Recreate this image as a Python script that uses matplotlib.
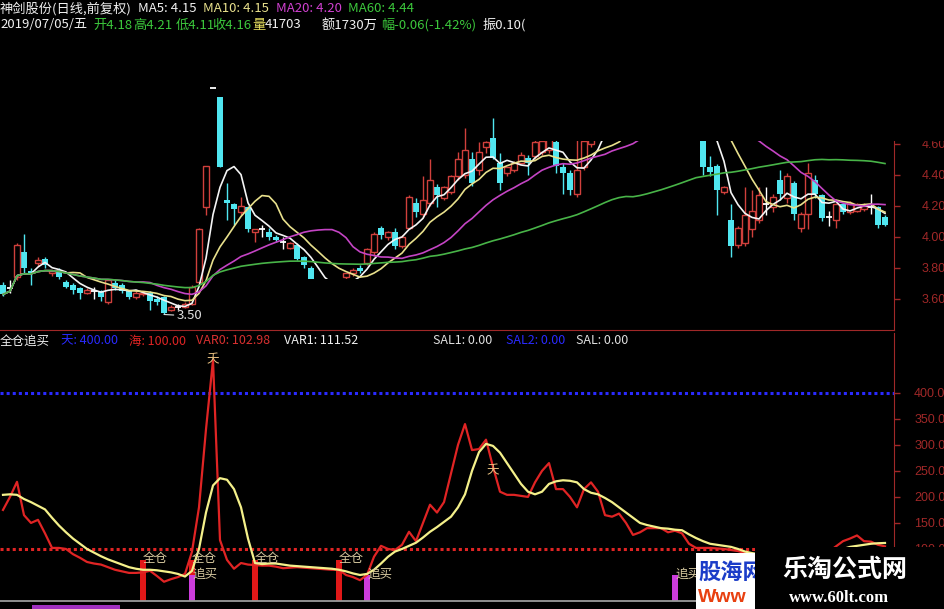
import numpy as np
import pandas as pd
import matplotlib
matplotlib.use("Agg")
import matplotlib.pyplot as plt
from matplotlib.patches import Rectangle

plt.rcParams['font.family'] = ['Noto Sans CJK SC', 'DejaVu Sans']

# daily candles
opens = [3.69, 3.67, 3.74, 3.90, 3.78, 3.83, 3.86, 3.77, 3.79, 3.71,
         3.69, 3.67, 3.64, 3.65, 3.65, 3.58, 3.70, 3.69, 3.65, 3.61,
         3.63, 3.64, 3.60, 3.61, 3.53, 3.55, 3.55, 3.57, 3.71, 4.19,
         4.96, 4.90, 4.24, 4.21, 4.16, 4.19, 4.03, 4.05, 4.03, 4.00,
         3.97, 3.93, 3.95, 3.87, 3.80, 3.71, 3.65, 3.63, 3.66, 3.74,
         3.77, 3.80, 3.83, 3.90, 4.06, 4.00, 4.03, 3.94, 4.06, 4.22,
         4.15, 4.22, 4.32, 4.25, 4.29, 4.39, 4.40, 4.50, 4.43, 4.58,
         4.64, 4.48, 4.41, 4.43, 4.48, 4.51, 4.52, 4.55, 4.56, 4.61,
         4.45, 4.41, 4.28, 4.45, 4.60, 4.72, 4.76, 4.80, 4.78, 4.85,
         4.90, 4.86, 4.92, 4.88, 4.95, 4.98, 4.93, 4.96, 5.00, 4.98,
         4.92, 4.45, 4.46, 4.29, 4.11, 3.95, 3.96, 4.05, 4.11, 4.21,
         4.19, 4.37, 4.25, 4.35, 4.06, 4.15, 4.37, 4.27, 4.13, 4.11,
         4.21, 4.16, 4.17, 4.18, 4.19, 4.19, 4.13]
highs = [3.71, 3.72, 3.96, 4.02, 3.80, 3.87, 3.87, 3.79, 3.80, 3.72,
         3.70, 3.68, 3.67, 3.68, 3.66, 3.73, 3.72, 3.70, 3.66, 3.65,
         3.65, 3.65, 3.62, 3.62, 3.56, 3.57, 3.58, 3.69, 4.06, 4.46,
         4.96, 4.90, 4.35, 4.22, 4.26, 4.20, 4.05, 4.08, 4.06, 4.01,
         4.00, 3.97, 3.96, 3.88, 3.81, 3.72, 3.68, 3.70, 3.72, 3.77,
         3.80, 3.82, 3.93, 4.03, 4.07, 4.04, 4.06, 4.01, 4.27, 4.25,
         4.39, 4.50, 4.34, 4.33, 4.40, 4.55, 4.70, 4.55, 4.61, 4.62,
         4.77, 4.54, 4.45, 4.49, 4.55, 4.53, 4.64, 4.66, 4.68, 4.68,
         4.48, 4.43, 4.70, 4.66, 4.75, 4.80, 4.85, 4.84, 4.90, 4.95,
         4.93, 4.98, 4.95, 5.00, 5.05, 5.00, 5.02, 5.08, 5.05, 5.02,
         4.95, 4.52, 4.47, 4.33, 4.21, 4.07, 4.32, 4.30, 4.32, 4.32,
         4.28, 4.43, 4.41, 4.36, 4.16, 4.48, 4.40, 4.28, 4.17, 4.22,
         4.22, 4.23, 4.22, 4.22, 4.28, 4.20, 4.14]
lows = [3.62, 3.64, 3.72, 3.77, 3.69, 3.81, 3.80, 3.75, 3.73, 3.67,
        3.63, 3.60, 3.63, 3.60, 3.59, 3.57, 3.66, 3.64, 3.60, 3.60,
        3.62, 3.53, 3.56, 3.50, 3.52, 3.53, 3.54, 3.56, 3.70, 4.14,
        4.96, 4.45, 4.11, 4.08, 4.14, 4.03, 3.97, 4.00, 3.98, 3.97,
        3.92, 3.92, 3.85, 3.80, 3.72, 3.62, 3.60, 3.61, 3.64, 3.73,
        3.75, 3.77, 3.82, 3.88, 3.99, 3.98, 3.92, 3.93, 4.05, 4.13,
        4.13, 4.20, 4.19, 4.24, 4.28, 4.37, 4.38, 4.33, 4.40, 4.54,
        4.50, 4.30, 4.39, 4.42, 4.47, 4.40, 4.50, 4.53, 4.54, 4.41,
        4.28, 4.27, 4.26, 4.43, 4.58, 4.68, 4.70, 4.72, 4.75, 4.82,
        4.80, 4.84, 4.84, 4.86, 4.90, 4.88, 4.90, 4.94, 4.93, 4.90,
        4.40, 4.39, 4.14, 4.28, 3.87, 3.93, 3.94, 4.00, 4.09, 4.14,
        4.16, 4.24, 4.22, 4.11, 4.03, 4.05, 4.25, 4.10, 4.07, 4.06,
        4.15, 4.15, 4.16, 4.17, 4.15, 4.06, 4.07]
closes = [3.63, 3.67, 3.95, 3.80, 3.76, 3.85, 3.82, 3.78, 3.74, 3.68,
          3.66, 3.64, 3.66, 3.65, 3.61, 3.72, 3.67, 3.65, 3.61, 3.64,
          3.64, 3.59, 3.58, 3.51, 3.55, 3.55, 3.57, 3.68, 4.05, 4.46,
          4.96, 4.45, 4.22, 4.18, 4.20, 4.05, 4.05, 4.05, 4.00, 3.98,
          3.97, 3.96, 3.86, 3.82, 3.73, 3.65, 3.63, 3.68, 3.70, 3.77,
          3.79, 3.78, 3.92, 4.02, 4.01, 4.03, 3.94, 4.00, 4.26, 4.16,
          4.24, 4.37, 4.27, 4.32, 4.39, 4.50, 4.56, 4.35, 4.55, 4.61,
          4.51, 4.35, 4.45, 4.48, 4.53, 4.48, 4.61, 4.62, 4.63, 4.46,
          4.41, 4.30, 4.43, 4.62, 4.72, 4.75, 4.80, 4.78, 4.85, 4.90,
          4.86, 4.92, 4.88, 4.95, 4.98, 4.93, 4.96, 5.00, 4.98, 4.95,
          4.45, 4.42, 4.30, 4.32, 3.94, 4.06, 4.14, 4.17, 4.27, 4.21,
          4.26, 4.28, 4.39, 4.15, 4.15, 4.41, 4.28, 4.12, 4.13, 4.21,
          4.16, 4.22, 4.21, 4.20, 4.19, 4.08, 4.08]

# indicator lines of the lower pane
var0 = [175, 200, 229, 165, 150, 156, 130, 102, 102, 100,
        90, 83, 75, 72, 70, 65, 60, 57, 54, 54,
        55, 58, 48, 37, 42, 46, 52, 95, 180, 330,
        463, 117, 79, 62, 73, 70, 69, 68, 68, 66,
        63, 64, 65, 64, 63, 62, 61, 60, 60, 50,
        46, 40, 50, 85, 106, 100, 98, 108, 133, 115,
        150, 185, 170, 190, 245, 300, 340, 290, 292, 310,
        258, 210, 204, 204, 202, 200, 228, 250, 265, 215,
        215, 200, 180, 215, 228, 210, 165, 162, 168, 150,
        127, 132, 140, 140, 140, 132, 135, 130, 110, 102,
        102, 102, 101, 100, 98, 96, 92, 88, 85, 82,
        80, 85, 90, 88, 84, 95, 100, 98, 95, 105,
        115, 120, 126, 115, 114, 108, 105]
var1 = [204, 205, 204, 196, 190, 183, 176, 160, 145, 132,
        120, 110, 100, 93, 86, 80, 75, 70, 65, 62,
        60, 60, 59, 57, 55, 52, 47, 58, 100, 170,
        222, 236, 233, 215, 180, 120, 73, 71, 72, 72,
        70, 68, 67, 66, 65, 64, 63, 62, 60, 57,
        53, 50, 52, 60, 72, 85, 95, 100, 106, 112,
        122, 133, 142, 152, 162, 180, 205, 250, 286, 302,
        298, 285, 265, 245, 225, 210, 205, 210, 225, 230,
        232, 231, 228, 215, 208, 205, 198, 190, 180, 170,
        160, 150, 146, 143, 140, 139, 137, 136, 128, 121,
        115, 110, 108, 106, 104, 100, 95, 92, 90, 88,
        87, 87, 88, 88, 88, 90, 92, 93, 95, 97,
        100, 104, 106, 108, 110, 111, 111.5]

full_idx = [20, 27, 36, 48]          # 全仓 signals
full_val = [79, 79, 79, 79]
chase_idx = [27, 52, 96]             # 追买 signals
chase_val = [50, 50, 50]
tian_idx = [30, 70]                  # 夭 marks
tian_val = [463, 250]

price_ticks = [3.60, 3.80, 4.00, 4.20, 4.40, 4.60]
ind_ticks = [100, 150, 200, 250, 300, 350, 400]

W, H = 945, 609
RED = '#d0403c'
CYAN = '#50e6f0'
AXRED = '#a02828'


def fx(px):
    return px / W


def fy(py):
    return 1 - py / H


fig = plt.figure(figsize=(9.45, 6.09), dpi=100, facecolor='black')
ax1 = fig.add_axes([0, fy(330), fx(894), (330 - 40) / H])
ax2 = fig.add_axes([0, fy(601), fx(894), (601 - 333) / H])

n = len(closes)
x = np.arange(n)
xlim = (-3 / 7, -3 / 7 + 894 / 7)

for ax in (ax1, ax2):
    ax.set_facecolor('black')
    ax.set_xlim(*xlim)
    ax.set_xticks([])
    ax.yaxis.tick_right()
    for s in ('left', 'top'):
        ax.spines[s].set_visible(False)
    ax.spines['right'].set_color(AXRED)
    ax.tick_params(axis='y', colors=AXRED, length=4, width=1, labelsize=9)

ax1.spines['bottom'].set_color(AXRED)
ax2.spines['bottom'].set_color('#9a9a9a')
ax2.spines['bottom'].set_linewidth(1.3)

# ---- price pane ----
o, h, l, c = map(np.array, (opens, highs, lows, closes))
up, dn, eq = c > o, c < o, c == o
w = 0.72
ax1.vlines(x[dn], l[dn], h[dn], color=CYAN, lw=1, zorder=2)
ax1.bar(x[dn], (o - c)[dn], bottom=c[dn], width=w, color=CYAN, zorder=2)
ax1.vlines(x[up], c[up], h[up], color=RED, lw=1, zorder=2)
ax1.vlines(x[up], l[up], o[up], color=RED, lw=1, zorder=2)
ax1.bar(x[up], (c - o)[up], bottom=o[up], width=w, facecolor='black',
        edgecolor=RED, linewidth=1, zorder=2)
ax1.vlines(x[eq], l[eq], h[eq], color='white', lw=1, zorder=2)
ax1.hlines(o[eq], x[eq] - w / 2, x[eq] + w / 2, color='white', lw=1.3, zorder=2)

close_s = pd.Series(closes)
ma_cols = {5: '#f4f4f4', 10: '#e8e08c', 20: '#c444c4', 60: '#48b448'}
for p, col in ma_cols.items():
    ax1.plot(x, close_s.rolling(p, min_periods=1).mean(), color=col, lw=1.2, zorder=3)

i_low = int(np.argmin(l))
ax1.annotate(f"{l[i_low]:.2f}", xy=(i_low, l[i_low]), xytext=(9, -1),
             textcoords='offset points', color='#e0e0e0', fontsize=9.5,
             ha='left', va='center',
             arrowprops=dict(arrowstyle='-', color='#e0e0e0', lw=0.8, shrinkA=0, shrinkB=0))

ax1.set_ylim(3.40, 5.27)
ax1.set_yticks(price_ticks)
ax1.set_yticklabels([f"{t:.2f}" for t in price_ticks], family=['Liberation Sans'])
ax1.tick_params(axis='y', pad=16)

# ---- indicator pane ----
ax2.axhline(400, color='#2a2aff', lw=2.2, ls=(0, (1, 1)), zorder=1)
ax2.axhline(100, color='#e02424', lw=2.2, ls=(0, (1, 1)), zorder=1)
ax2.bar(full_idx, full_val, width=0.95, color='#e01818', zorder=2)
ax2.bar(chase_idx, chase_val, width=0.95, color='#cc3cdc', zorder=2)
ax2.plot(x, var0, color='#e02424', lw=1.6, zorder=3)
ax2.plot(x, var1, color='#f4f08a', lw=1.6, zorder=4)

lab_col = '#d8caa0'
for i, v in zip(full_idx, full_val):
    ax2.text(i, v + 2, '全仓', color=lab_col, fontsize=9, ha='left', va='center', zorder=5)
for i, v in zip(chase_idx, chase_val):
    ax2.text(i, v + 2, '追买', color=lab_col, fontsize=9, ha='left', va='center', zorder=5)
for i, v in zip(tian_idx, tian_val):
    ax2.text(i, v, '夭', color='#e8c080', fontsize=9, ha='center', va='center', zorder=5)

ax2.set_ylim(0, 515)
ax2.set_yticks(ind_ticks)
ax2.set_yticklabels([f"{t:.1f}" for t in ind_ticks], family=['Liberation Sans'])
ax2.tick_params(axis='y', pad=10.5)

# ---- header texts ----
def put(px, py, s, col, size=9.5, **kw):
    fig.text(fx(px), fy(py), s, color=col, fontsize=size, ha='left', va='center', zorder=3, **kw)

GRN = '#3cc83c'
put(0, 9, '神剑股份(日线,前复权)', '#f0f0f0')
put(138, 9, 'MA5: 4.15', '#f0f0f0')
put(203, 9, 'MA10: 4.15', '#e8e08c')
put(276, 9, 'MA20: 4.20', '#d040d0')
put(348, 9, 'MA60: 4.44', GRN)
put(0, 25, '2019/07/05/五', '#f0f0f0')
put(93, 25, '开4.18', GRN)
put(133, 25, '高4.21', GRN)
put(176, 25, '低4.11', GRN)
put(212, 25, '收4.16', GRN)
put(252, 25, '量', '#e8e060')
put(265, 25, '41703', '#f0f0f0')
put(322, 25, '额1730万', '#f0f0f0')
put(381, 25, '幅-0.06(-1.42%)', GRN)
put(483, 25, '振0.10(', '#f0f0f0')

put(0, 341, '全仓追买', '#f0f0f0', 9)
put(61, 341, '天: 400.00', '#2a2aff', 9)
put(129, 341, '海: 100.00', '#e02424', 9)
put(196, 341, 'VAR0: 102.98', '#d83030', 9)
put(284, 341, 'VAR1: 111.52', '#f0f0f0', 9)
put(433, 341, 'SAL1: 0.00', '#e0e0e0', 9)
put(506, 341, 'SAL2: 0.00', '#2a2aff', 9)
put(576, 341, 'SAL: 0.00', '#e0e0e0', 9)


# ---- pasted boxes of the screenshot ----
def box(x0, y0, x1, y1, col, z):
    fig.add_artist(Rectangle((fx(x0), fy(y1)), fx(x1 - x0), (y1 - y0) / H,
                             transform=fig.transFigure, facecolor=col,
                             edgecolor='none', zorder=z))

box(533, 0, 945, 141, 'black', 5)
box(233, 279, 710, 328, 'black', 5)
box(32, 605, 120, 609, '#a030c0', 5)

box(696, 553, 760, 609, 'white', 5)
fig.text(fx(698), fy(572), '股海网', color='#1a3cc8', fontsize=16, fontweight='bold',
         ha='left', va='center', zorder=5.2)
fig.text(fx(698), fy(597), 'Www', color='#e84010', fontsize=14, fontweight='bold',
         family=['Liberation Sans'], ha='left', va='center', zorder=5.2)
box(755, 547, 945, 609, 'black', 5.5)
fig.text(fx(845), fy(570), '乐淘公式网', color='white', fontsize=18, fontweight='bold',
         ha='center', va='center', zorder=6)
fig.text(fx(839), fy(598), 'www.60lt.com', color='white', fontsize=12, fontweight='bold',
         family=['Liberation Serif'], ha='center', va='center', zorder=6)

fig.savefig('out.png', dpi=100, facecolor='black')
